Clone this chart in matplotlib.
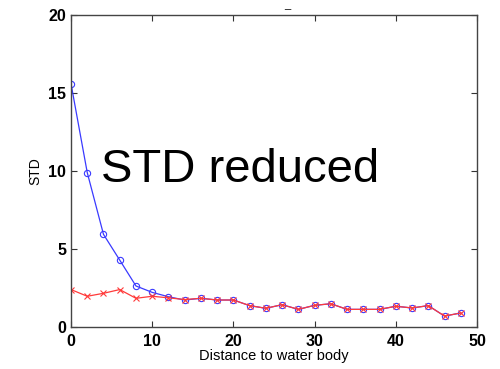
import matplotlib
matplotlib.use("Agg")
import matplotlib.pyplot as plt
import numpy as np

plt.rcParams['font.family'] = ['Liberation Sans', 'DejaVu Sans']

distance = [0, 2, 4, 6, 8, 10, 12, 14, 16, 18, 20, 22, 24, 26, 28, 30, 32, 34, 36, 38, 40, 42, 44, 46, 48]
std_before = [15.6, 9.9, 5.94, 4.29, 2.63, 2.22, 1.94, 1.73, 1.84, 1.73, 1.73, 1.37, 1.2, 1.43, 1.13,
              1.39, 1.49, 1.13, 1.13, 1.13, 1.33, 1.22, 1.37, 0.7, 0.9]
std_after = [2.4, 1.97, 2.16, 2.4, 1.84, 1.97, 1.87, 1.76, 1.84, 1.73, 1.73, 1.37, 1.2, 1.43, 1.13,
             1.39, 1.49, 1.13, 1.13, 1.13, 1.33, 1.22, 1.37, 0.7, 0.9]

fig = plt.figure(figsize=(5, 3.69), dpi=100)
ax = fig.add_axes([71/500, 1 - 327/369, 406/500, 312/369])

ax.plot(distance, std_before, color="#3a3aff", lw=0.9, marker="o", ms=4.5, mfc="none", mew=0.8)
ax.plot(distance, std_after, color="#ff3a3a", lw=0.9, marker="x", ms=4, mew=0.8)

ax.set_xlim(0, 50)
ax.set_ylim(0, 20)
ax.set_xticks(np.arange(0, 51, 10))
ax.set_yticks(np.arange(0, 21, 5))
ax.tick_params(direction="in", top=True, right=True, length=4, width=0.8, color="#333333",
               labelsize=11.5)
ax.tick_params(axis="x", pad=5)
for lab in ax.get_xticklabels() + ax.get_yticklabels():
    lab.set_fontweight("bold")
for s in ax.spines.values():
    s.set_color("#444444")
    s.set_linewidth(1.0)

ax.set_xlabel("Distance to water body", fontsize=10.5, labelpad=0)
ax.set_ylabel("STD", fontsize=10, labelpad=4)

ax.text(101/500, 1 - 182/369, "STD reduced", transform=fig.transFigure, fontsize=34,
        ha="left", va="baseline")
fig.text(287/500, 1.0, "_", fontsize=8, ha="center", va="top")

fig.savefig("out.png", dpi=100)
